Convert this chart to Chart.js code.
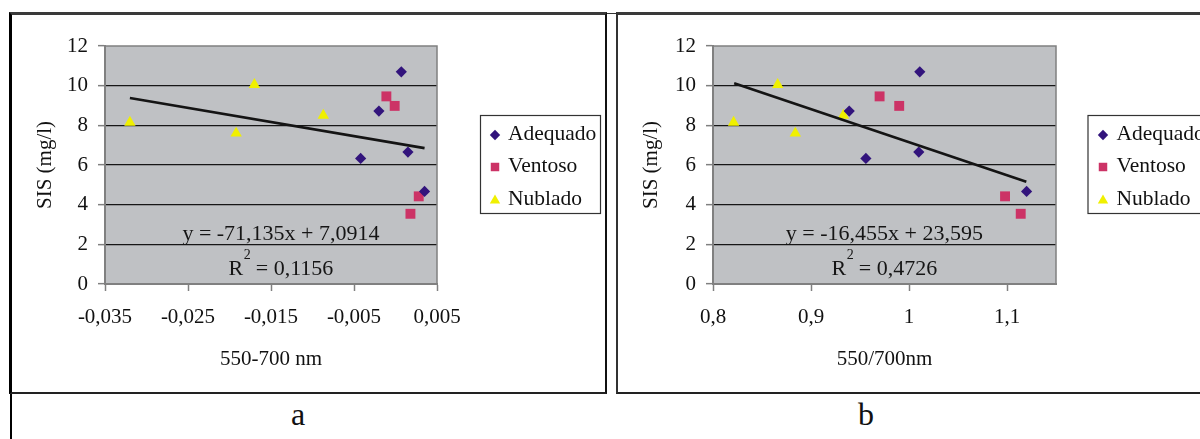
<!DOCTYPE html>
<html><head><meta charset="utf-8">
<script src="https://cdn.jsdelivr.net/npm/chart.js@4/dist/chart.umd.min.js"></script>
<style>
html,body{margin:0;padding:0;background:#fff;width:1200px;height:439px;overflow:hidden;position:relative;font-family:"Liberation Serif","Times New Roman",serif;}
.frame{position:absolute;box-sizing:border-box;}
canvas{position:absolute;}
.lbl{position:absolute;font-size:32px;line-height:32px;color:#111;transform:translateX(-50%);}
</style></head><body>
<div class="frame" style="left:9px;top:12px;width:598px;height:382px;border-top:3px solid #3a3a3a;border-left:3px solid #000;border-right:2px solid #111;border-bottom:2px solid #222;"></div>
<div class="frame" style="left:616px;top:12px;width:600px;height:382px;border-top:3px solid #3a3a3a;border-left:2px solid #333;border-bottom:2px solid #222;"></div>
<div class="frame" style="left:607px;top:13px;width:9px;height:1px;background:#333;"></div>
<div class="frame" style="left:10px;top:394px;width:2px;height:45px;background:#000;"></div>
<canvas id="ca" width="594" height="377" style="left:12px;top:15px;"></canvas>
<canvas id="cb" width="582" height="377" style="left:618px;top:15px;"></canvas>
<div class="lbl" style="left:298px;top:398px;">a</div>
<div class="lbl" style="left:866px;top:398px;">b</div>
<script>
// ---- data ----
const seriesNames = ['Adequado', 'Ventoso', 'Nublado'];
const yTickValues = [0, 2, 4, 6, 8, 10, 12];
const yTickLabels = ['0', '2', '4', '6', '8', '10', '12'];
const xTickValuesA = [-0.035, -0.025, -0.015, -0.005, 0.005];
const xTickLabelsA = ['-0,035', '-0,025', '-0,015', '-0,005', '0,005'];
const xTickValuesB = [0.8, 0.9, 1.0, 1.1];
const xTickLabelsB = ['0,8', '0,9', '1', '1,1'];

const sisAdequado = [10.70, 8.72, 6.33, 6.65, 4.67];
const sisVentoso  = [9.46, 8.98, 4.42, 3.54];
const sisNublado  = [8.15, 10.05, 7.60, 8.50];

const diffAdequado = [0.0007, -0.0020, -0.0042, 0.0015, 0.0035];
const diffVentoso  = [-0.0011, -0.0001, 0.0028, 0.0018];
const diffNublado  = [-0.0320, -0.0170, -0.0192, -0.0087];

const ratioAdequado = [1.011, 0.939, 0.956, 1.010, 1.120];
const ratioVentoso  = [0.970, 0.990, 1.098, 1.114];
const ratioNublado  = [0.821, 0.866, 0.884, 0.933];

const trendAx = [-0.0320, 0.0035];
const trendAy = [9.38, 6.85];
const trendBx = [0.8216, 1.1197];
const trendBy = [10.12, 5.16];

const equationA = 'y = -71,135x + 7,0914';
const r2A = '0,1156';
const equationB = 'y = -16,455x + 23,595';
const r2B = '0,4726';

// ---- styling / helpers ----
const FONT = "'Liberation Serif','Times New Roman',serif";
const colAdequado = '#32147c';
const colVentoso = '#cc3366';
const colNublado = '#f0f000';

function pts(xs, ys) { return xs.map((x, i) => ({x: x, y: ys[i]})); }

function drawMarker(ctx, style, r, x, y) {
  if (Chart.helpers && Chart.helpers.drawPoint) {
    Chart.helpers.drawPoint(ctx, {pointStyle: style, radius: r, rotation: 0, borderWidth: 0}, x, y);
    return;
  }
  ctx.beginPath();
  if (style === 'rectRot') { ctx.moveTo(x - r, y); ctx.lineTo(x, y - r); ctx.lineTo(x + r, y); ctx.lineTo(x, y + r); }
  else if (style === 'rect') { const s = r * Math.SQRT1_2; ctx.rect(x - s, y - s, 2 * s, 2 * s); }
  else { ctx.moveTo(x, y - r); ctx.lineTo(x + 0.866 * r, y + 0.5 * r); ctx.lineTo(x - 0.866 * r, y + 0.5 * r); }
  ctx.closePath(); ctx.fill();
}

const plotBg = {
  id: 'plotBg',
  beforeDraw(chart) {
    const {ctx, chartArea: a} = chart;
    ctx.save(); ctx.fillStyle = '#bfc1c4';
    ctx.fillRect(a.left, a.top, a.right - a.left, a.bottom - a.top); ctx.restore();
  },
  beforeDatasetsDraw(chart) {
    const {ctx, chartArea: a} = chart;
    ctx.save(); ctx.strokeStyle = '#808080'; ctx.lineWidth = 1.5;
    ctx.beginPath(); ctx.moveTo(a.left, a.top); ctx.lineTo(a.right, a.top); ctx.lineTo(a.right, a.bottom);
    ctx.stroke(); ctx.restore();
  }
};

const legendBox = {
  id: 'legendBox',
  afterDraw(chart, args, o) {
    const ctx = chart.ctx; ctx.save();
    ctx.fillStyle = '#fff'; ctx.fillRect(o.left, o.top, o.width, o.height);
    ctx.strokeStyle = '#333'; ctx.lineWidth = 1.2; ctx.strokeRect(o.left + 0.5, o.top + 0.5, o.width, o.height);
    chart.data.datasets.slice(0, 3).forEach((ds, i) => {
      const y = o.rows[i];
      ctx.fillStyle = ds.backgroundColor;
      drawMarker(ctx, ds.pointStyle, o.markerR[i], o.markerX, y + o.markerDy[i]);
      ctx.fillStyle = '#111'; ctx.font = '21.5px ' + FONT; ctx.textBaseline = 'middle'; ctx.textAlign = 'left';
      ctx.fillText(ds.label, o.textX, y);
    });
    ctx.restore();
  }
};

const eqLabel = {
  id: 'eqLabel',
  afterDatasetsDraw(chart, args, o) {
    const {ctx, chartArea: a} = chart;
    const cx = a.left + o.fx * (a.right - a.left);
    const big = '22px ' + FONT, small = '14px ' + FONT;
    ctx.save(); ctx.fillStyle = '#151515'; ctx.textBaseline = 'alphabetic';
    ctx.font = big; ctx.textAlign = 'center';
    ctx.fillText(o.line1, cx, a.top + o.dy1);
    ctx.textAlign = 'left';
    const wR = ctx.measureText('R').width;
    const rest = ' = ' + o.r2;
    const wRest = ctx.measureText(rest).width;
    ctx.font = small; const w2 = ctx.measureText('2').width;
    let x = cx - (wR + w2 + wRest) / 2;
    ctx.font = big; ctx.fillText('R', x, a.top + o.dy2); x += wR;
    ctx.font = small; ctx.fillText('2', x + 0.5, a.top + o.dy2 - 16); x += w2;
    ctx.font = big; ctx.fillText(rest, x, a.top + o.dy2);
    ctx.restore();
  }
};

function makeChart(id, cfg) {
  const tickFont = {family: FONT, size: 21};
  const titleFont = {family: FONT, size: 21};
  return new Chart(document.getElementById(id), {
    type: 'scatter',
    data: {
      datasets: [
        {label: seriesNames[0], data: pts(cfg.xs[0], sisAdequado), pointStyle: 'rectRot', pointRadius: 5.6,
         backgroundColor: colAdequado, borderColor: colAdequado, borderWidth: 0, order: 1},
        {label: seriesNames[1], data: pts(cfg.xs[1], sisVentoso), pointStyle: 'rect', pointRadius: 7.0,
         backgroundColor: colVentoso, borderColor: colVentoso, borderWidth: 0, order: 2},
        {label: seriesNames[2], data: pts(cfg.xs[2], sisNublado), pointStyle: 'triangle', pointRadius: 6.6,
         backgroundColor: colNublado, borderColor: colNublado, borderWidth: 0, order: 3},
        {label: 'Linear', data: pts(cfg.trendX, cfg.trendY), showLine: true, pointRadius: 0,
         borderColor: '#141414', borderWidth: 2.6, fill: false, order: 0}
      ]
    },
    options: {
      responsive: false, animation: false, events: [],
      layout: {padding: {left: 0, top: 31, right: cfg.padRight, bottom: 0}},
      plugins: {
        legend: {display: false}, tooltip: {enabled: false},
        legendBox: cfg.legend,
        eqLabel: cfg.eq
      },
      scales: {
        x: {
          type: 'linear', min: cfg.xMin, max: cfg.xMax,
          afterBuildTicks: s => { s.ticks = cfg.xTickValues.map(v => ({value: v})); },
          afterFit: s => { s.height = 108; },
          ticks: {callback: (v, i) => cfg.xTickLabels[i], font: tickFont, color: '#111', padding: 14,
                  maxRotation: 0, autoSkip: false},
          grid: {drawOnChartArea: false, drawTicks: true, tickLength: 7, tickColor: '#808080', tickWidth: 1.5},
          border: {color: '#808080', width: 2},
          title: {display: true, text: cfg.xTitle, font: titleFont, color: '#111', padding: {top: 0, bottom: 20}}
        },
        y: {
          type: 'linear', min: 0, max: 12,
          afterBuildTicks: s => { s.ticks = yTickValues.map(v => ({value: v})); },
          afterFit: s => { s.width = cfg.yAxisW; },
          ticks: {callback: (v, i) => yTickLabels[i], font: tickFont, color: '#111', padding: 10, autoSkip: false},
          grid: {
            color: c => (c.index === 0 || c.index === yTickValues.length - 1) ? 'rgba(0,0,0,0)' : '#161616',
            lineWidth: 1.3, drawTicks: true, tickLength: 7, tickColor: '#808080', tickWidth: 1.5
          },
          border: {color: '#808080', width: 2},
          title: {display: true, text: 'SIS (mg/l)', font: titleFont, color: '#111', padding: {top: 21, bottom: 0}}
        }
      }
    },
    plugins: [plotBg, legendBox, eqLabel]
  });
}

makeChart('ca', {
  xs: [diffAdequado, diffVentoso, diffNublado], trendX: trendAx, trendY: trendAy,
  xMin: -0.035, xMax: 0.005, xTickValues: xTickValuesA, xTickLabels: xTickLabelsA,
  xTitle: '550-700 nm', yAxisW: 93, padRight: 169,
  legend: {left: 468, top: 100, width: 120, height: 98, markerX: 483, textX: 496, rows: [119, 151.5, 184],
           markerR: [5.2, 6.0, 6.0], markerDy: [1, 0.5, 1.5]},
  eq: {fx: 0.530, dy1: 193.5, dy2: 229, line1: equationA, r2: r2A}
});
makeChart('cb', {
  xs: [ratioAdequado, ratioVentoso, ratioNublado], trendX: trendBx, trendY: trendBy,
  xMin: 0.8, xMax: 1.15, xTickValues: xTickValuesB, xTickLabels: xTickLabelsB,
  xTitle: '550/700nm', yAxisW: 95, padRight: 144,
  legend: {left: 469.5, top: 100, width: 120, height: 98, markerX: 485, textX: 498.5, rows: [119, 151.5, 184],
           markerR: [5.2, 6.0, 6.0], markerDy: [1, 0.5, 1.5]},
  eq: {fx: 0.4997, dy1: 193.5, dy2: 229, line1: equationB, r2: r2B}
});
</script>
</body></html>
